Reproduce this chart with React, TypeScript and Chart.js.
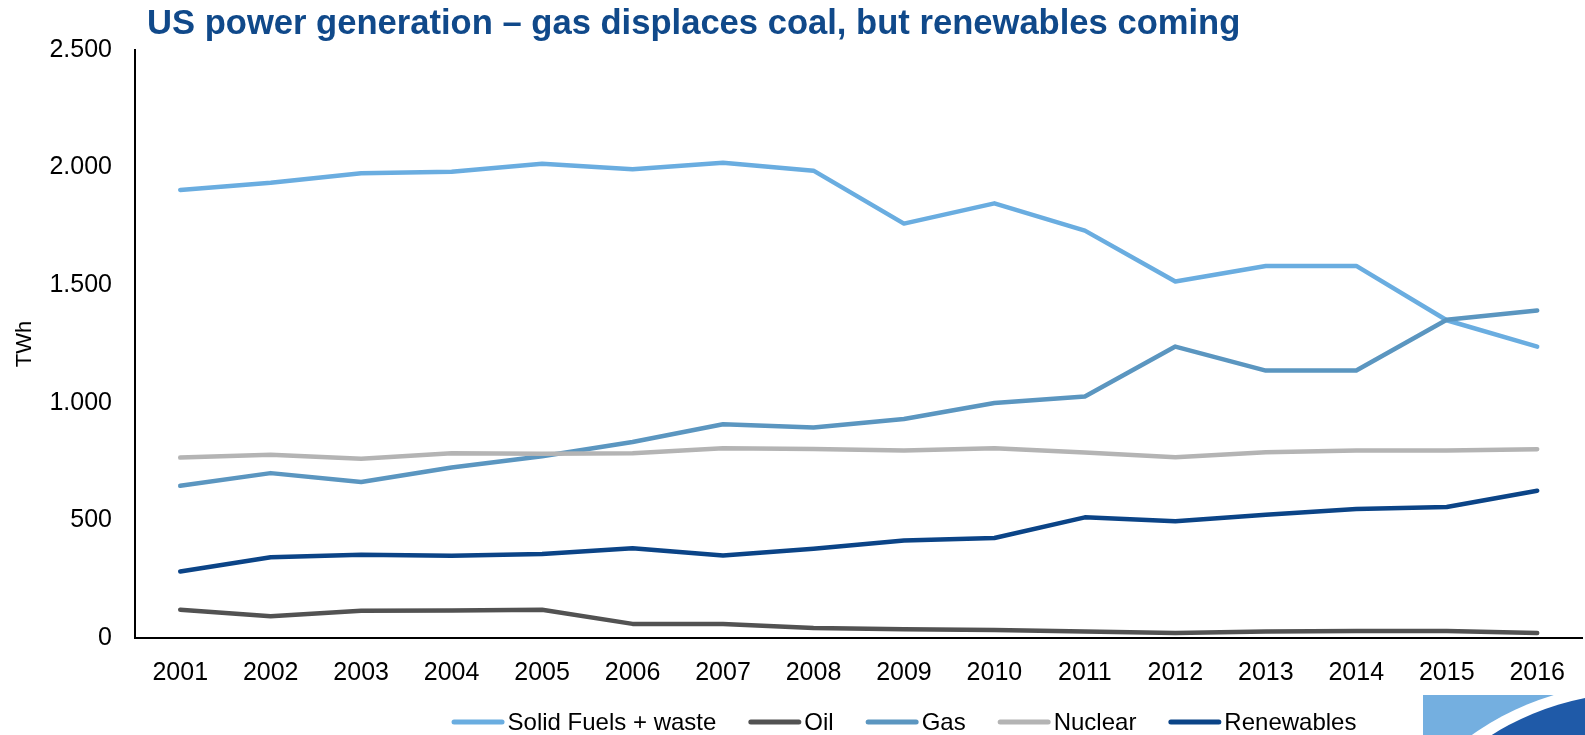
import React, { useEffect, useRef } from "react";
import { Chart, registerables } from "chart.js";

Chart.register(...registerables);

const FONT = 'Arial, "Liberation Sans", Helvetica, sans-serif';
const TITLE = "US power generation \u2013 gas displaces coal, but renewables coming";

const years = ["2001", "2002", "2003", "2004", "2005", "2006", "2007", "2008", "2009", "2010", "2011", "2012", "2013", "2014", "2015", "2016"];
const solidFuels = [1905, 1936, 1976, 1982, 2016, 1993, 2021, 1987, 1762, 1848, 1732, 1516, 1582, 1582, 1351, 1239];
const oil = [120, 92, 116, 117, 120, 60, 60, 42, 37, 34, 28, 21, 28, 30, 30, 21];
const gas = [647, 701, 663, 725, 773, 833, 909, 895, 931, 999, 1027, 1239, 1137, 1137, 1353, 1392];
const nuclear = [767, 779, 762, 786, 783, 786, 807, 804, 797, 807, 789, 769, 790, 797, 797, 803];
const renewables = [283, 343, 354, 350, 357, 382, 351, 379, 415, 425, 513, 496, 524, 548, 557, 626];
const yTickValues = [0, 500, 1000, 1500, 2000, 2500];

const seriesNames = ["Solid Fuels + waste", "Oil", "Gas", "Nuclear", "Renewables"];
const seriesColors = ["#6AADE0", "#525252", "#5B96C0", "#B4B4B4", "#0B4487"];

const overlayPlugin = {
  id: "overlay",
  afterDraw(chart: any) {
    const ctx = chart.ctx as CanvasRenderingContext2D;
    ctx.save();
    // Title
    ctx.font = `bold 34.6px ${FONT}`;
    ctx.fillStyle = "#10498A";
    ctx.textAlign = "left";
    ctx.textBaseline = "alphabetic";
    ctx.fillText(TITLE, 147, 34);

    // Legend
    ctx.font = `24px ${FONT}`;
    const items = chart.data.datasets.map((ds: any) => ({
      label: ds.label,
      color: ds.borderColor,
      w: ctx.measureText(ds.label).width,
    }));
    const lineLen = 53;
    const gap = 3;
    const itemGap = 32;
    const total =
      items.reduce((s: number, it: any) => s + lineLen + gap + it.w, 0) + itemGap * (items.length - 1);
    let x = 904 - total / 2;
    const y = 722;
    ctx.textBaseline = "middle";
    ctx.lineCap = "round";
    for (const it of items) {
      ctx.strokeStyle = it.color;
      ctx.lineWidth = 5;
      ctx.beginPath();
      ctx.moveTo(x + 2.5, y);
      ctx.lineTo(x + lineLen - 2.5, y);
      ctx.stroke();
      ctx.fillStyle = "#000";
      ctx.fillText(it.label, x + lineLen + gap, y + 1);
      x += lineLen + gap + it.w + itemGap;
    }

    // Logo corner
    const rx = 1423, ry = 695, rw = 1585 - 1423, rh = 735 - 695;
    ctx.beginPath();
    ctx.rect(rx, ry, rw, rh);
    ctx.clip();
    ctx.fillStyle = "#74AFE0";
    ctx.fillRect(rx, ry, rw, rh);
    ctx.fillStyle = "#FFFFFF";
    ctx.beginPath();
    ctx.arc(1635, 965, 282, 0, Math.PI * 2);
    ctx.fill();
    ctx.fillStyle = "#1F5AA8";
    ctx.beginPath();
    ctx.arc(1637, 965, 272, 0, Math.PI * 2);
    ctx.fill();
    ctx.restore();
  },
};

export default function App() {
  const canvasRef = useRef<HTMLCanvasElement | null>(null);

  useEffect(() => {
    if (!canvasRef.current) return;
    const allSeries = [solidFuels, oil, gas, nuclear, renewables];
    const chart = new Chart(canvasRef.current, {
      type: "line",
      data: {
        labels: years,
        datasets: allSeries.map((d, i) => ({
          label: seriesNames[i],
          data: d,
          borderColor: seriesColors[i],
          backgroundColor: seriesColors[i],
          borderWidth: 4.5,
          pointRadius: 0,
          pointHoverRadius: 0,
          tension: 0,
          fill: false,
          borderCapStyle: "round" as const,
          borderJoinStyle: "round" as const,
          order: allSeries.length - i,
        })),
      },
      options: {
        responsive: false,
        animation: false,
        layout: { padding: { top: 50, left: 0, right: 0, bottom: 0 } },
        plugins: {
          legend: { display: false },
          title: { display: false },
          tooltip: { enabled: false },
        },
        scales: {
          x: {
            type: "category",
            offset: true,
            grid: { display: false, drawTicks: false, offset: true },
            border: { display: true, color: "#000", width: 2 },
            ticks: {
              color: "#000",
              font: { family: FONT, size: 25 },
              padding: 20,
              autoSkip: false,
              maxRotation: 0,
              minRotation: 0,
            },
            afterFit: (s: any) => {
              s.height = 97;
            },
          },
          y: {
            min: 0,
            max: 2500,
            grid: { display: false, drawTicks: false },
            border: { display: true, color: "#000", width: 2 },
            afterBuildTicks: (s: any) => {
              s.ticks = yTickValues.map((v) => ({ value: v }));
            },
            ticks: {
              color: "#000",
              font: { family: FONT, size: 25, lineHeight: 1.0 },
              padding: 23,
              callback: (v: any) => Number(v).toLocaleString("de-DE"),
            },
            title: {
              display: true,
              text: "TWh",
              color: "#000",
              font: { family: FONT, size: 22 },
              padding: { top: 12, bottom: 0 },
            },
            afterFit: (s: any) => {
              s.width = 135;
            },
          },
        },
      },
      plugins: [overlayPlugin],
    });
    return () => chart.destroy();
  }, []);

  return (
    <div style={{ position: "fixed", left: 0, top: 0, width: 1585, height: 735, background: "#fff" }}>
      <canvas ref={canvasRef} width={1585} height={735} style={{ display: "block" }} />
    </div>
  );
}
